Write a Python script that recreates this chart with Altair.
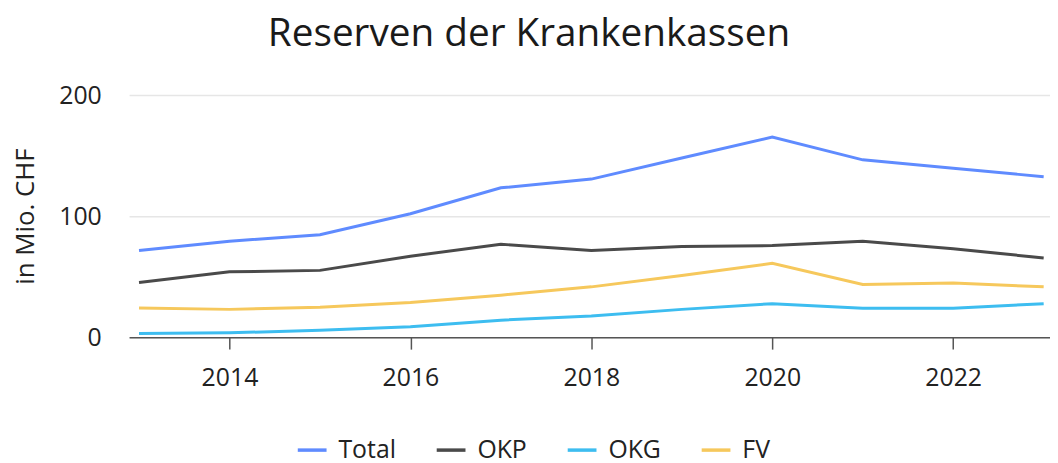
import altair as alt
import pandas as pd

years = list(range(2013, 2024))
total = [71.6, 79.3, 84.6, 102.0, 123.4, 130.6, 148.0, 165.3, 146.5, 139.5, 132.6]
okp = [45.2, 54.0, 55.2, 66.9, 76.8, 71.6, 75.0, 75.7, 79.3, 73.0, 65.5]
okg = [3.0, 3.6, 5.8, 8.6, 14.1, 17.5, 23.0, 27.7, 24.0, 24.0, 27.7]
fv = [24.1, 23.0, 24.7, 28.6, 34.7, 41.6, 51.0, 61.0, 43.5, 44.7, 41.6]

series = ["Total", "OKP", "OKG", "FV"]
colors = ["#5f8bff", "#4a4a4a", "#3dbdf0", "#f6c85c"]

rows = []
for name, vals in zip(series, [total, okp, okg, fv]):
    for y, v in zip(years, vals):
        rows.append({"Jahr": y, "Wert": v, "Serie": name})
df = pd.DataFrame(rows)

FONT = "Open Sans"

chart = alt.Chart(df).mark_line(strokeWidth=3).encode(
    x=alt.X("Jahr:Q",
            scale=alt.Scale(domain=[2012.89, 2023.07], nice=False, zero=False),
            axis=alt.Axis(values=[2014, 2016, 2018, 2020, 2022], format="d", title=None,
                          grid=False, tickSize=12, tickColor="#555", tickWidth=1.5,
                          domainColor="#555", domainWidth=1.5, labelPadding=17,
                          labelFontSize=25, labelColor="#222", labelFont=FONT)),
    y=alt.Y("Wert:Q",
            scale=alt.Scale(domain=[0, 200], nice=False),
            axis=alt.Axis(values=[0, 100, 200], title="in Mio. CHF", ticks=False, domain=False,
                          gridColor="#e6e6e6", gridWidth=1.5, labelPadding=28,
                          labelFontSize=25, labelColor="#222", labelFont=FONT,
                          titleFontSize=26, titleFont=FONT, titleColor="#222",
                          titleFontWeight="normal", titlePadding=20)),
    color=alt.Color("Serie:N",
                    scale=alt.Scale(domain=series, range=colors),
                    sort=series,
                    legend=alt.Legend(title=None, orient="none", legendX=168, legendY=341,
                                      direction="horizontal", symbolType="stroke",
                                      symbolSize=841, symbolStrokeWidth=3.5,
                                      labelFontSize=25, labelFont=FONT, labelColor="#222",
                                      labelOffset=10, columnPadding=34)),
).properties(
    width=928,
    height=244,
    title=alt.TitleParams("Reserven der Krankenkassen", fontSize=39, font=FONT,
                          fontWeight=500, color="#1a1a1a", anchor="middle", dx=-61, offset=29),
    autosize=alt.AutoSizeParams(type="none"),
    padding={"left": 122, "top": 86, "right": 0, "bottom": 125},
).configure_view(stroke=None)

chart.save("out.html", embed_options={"renderer": "svg", "actions": False})
